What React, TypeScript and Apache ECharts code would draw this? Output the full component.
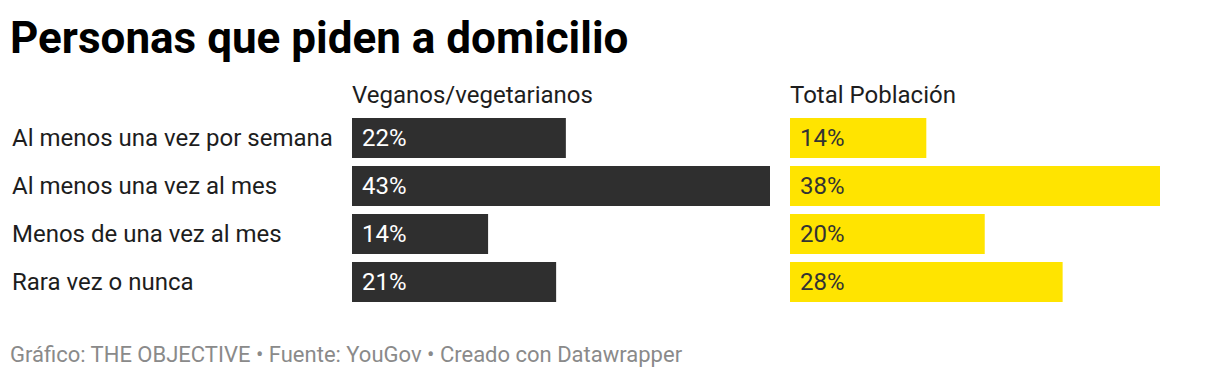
import React, { useEffect, useRef } from "react";
import * as echarts from "echarts";

const categories = [
  "Al menos una vez por semana",
  "Al menos una vez al mes",
  "Menos de una vez al mes",
  "Rara vez o nunca",
];
const veganos = [22, 43, 14, 21];
const total = [14, 38, 20, 28];
const seriesNames = ["Veganos/vegetarianos", "Total Población"];

const FONT = "Roboto, 'Noto Sans', sans-serif";

export default function App() {
  const ref = useRef<HTMLDivElement>(null);
  useEffect(() => {
    const chart = echarts.init(ref.current!, null, { renderer: "svg" });
    const labelCommon = {
      show: true,
      position: "insideLeft" as const,
      distance: 10,
      formatter: "{c}%",
      fontFamily: FONT,
      fontSize: 24,
    };
    chart.setOption({
      animation: false,
      backgroundColor: "#ffffff",
      title: [
        {
          text: "Personas que piden a domicilio",
          left: 10,
          top: 16,
          padding: 0,
          textStyle: { fontFamily: FONT, fontSize: 44, fontWeight: "bold", color: "#000" },
        },
        {
          text: seriesNames[0],
          left: 352,
          top: 83,
          padding: 0,
          textStyle: { fontFamily: FONT, fontSize: 24, fontWeight: "normal", color: "#1d1d1d" },
        },
        {
          text: seriesNames[1],
          left: 790,
          top: 83,
          padding: 0,
          textStyle: { fontFamily: FONT, fontSize: 24, fontWeight: "normal", color: "#1d1d1d" },
        },
        {
          text: "Gráfico: THE OBJECTIVE • Fuente: YouGov • Creado con Datawrapper",
          left: 10,
          top: 343,
          padding: 0,
          textStyle: { fontFamily: FONT, fontSize: 22, fontWeight: "normal", color: "#8a8a8a" },
        },
      ],
      grid: [
        { left: 352, top: 114, width: 418, height: 192 },
        { left: 790, top: 114, width: 370, height: 192 },
      ],
      xAxis: [
        { type: "value", gridIndex: 0, min: 0, max: 43, show: false },
        { type: "value", gridIndex: 1, min: 0, max: 38, show: false },
      ],
      yAxis: [
        {
          type: "category",
          gridIndex: 0,
          data: categories,
          inverse: true,
          axisLine: { show: false },
          axisTick: { show: false },
          splitLine: { show: false },
          axisLabel: {
            align: "left",
            margin: 340,
            fontFamily: FONT,
            fontSize: 24,
            color: "#1d1d1d",
          },
        },
        {
          type: "category",
          gridIndex: 1,
          data: categories,
          inverse: true,
          show: false,
        },
      ],
      series: [
        {
          name: seriesNames[0],
          type: "bar",
          xAxisIndex: 0,
          yAxisIndex: 0,
          data: veganos,
          barCategoryGap: "16.67%",
          itemStyle: { color: "#2f2f2f" },
          label: { ...labelCommon, color: "#ffffff" },
        },
        {
          name: seriesNames[1],
          type: "bar",
          xAxisIndex: 1,
          yAxisIndex: 1,
          data: total,
          barCategoryGap: "16.67%",
          itemStyle: { color: "#ffe400" },
          label: { ...labelCommon, color: "#333333" },
        },
      ],
    });
    return () => chart.dispose();
  }, []);
  return (
    <div
      ref={ref}
      style={{ width: 1220, height: 378, marginLeft: -8, marginTop: -8 }}
    />
  );
}
